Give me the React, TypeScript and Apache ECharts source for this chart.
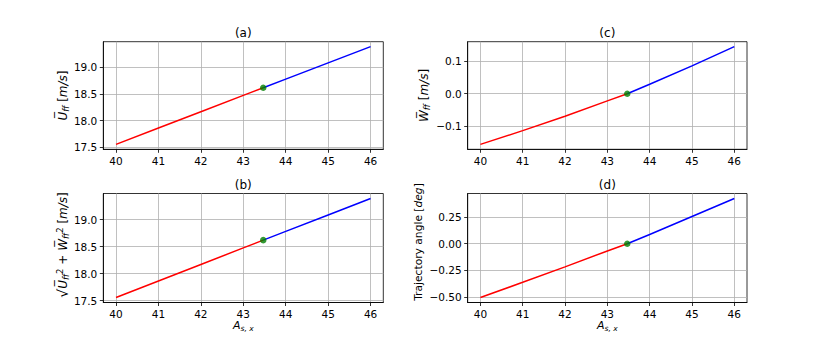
import React, { useEffect, useRef } from 'react';
import * as echarts from 'echarts';

// ---- data ----
const xRed = [40, 41, 42, 43, 43.47];
const xBlue = [43.47, 44, 45, 46];
const uRed = [17.555, 17.862, 18.168, 18.474, 18.618];
const uBlue = [18.618, 18.78, 19.085, 19.39];
const speedRed = [17.556, 17.862, 18.168, 18.474, 18.618];
const speedBlue = [18.618, 18.78, 19.085, 19.39];
const wRed = [-0.155, -0.113, -0.069, -0.022, 0.0];
const wBlue = [0.0, 0.029, 0.085, 0.144];
const angRed = [-0.506, -0.363, -0.218, -0.068, 0.0];
const angBlue = [0.0, 0.086, 0.256, 0.425];
const opX = [43.47];
const opU = [18.618];
const opSpeed = [18.618];
const opW = [0.0];
const opAng = [0.0];

const xTicks = [40, 41, 42, 43, 44, 45, 46];
const uTicks = [17.5, 18.0, 18.5, 19.0];
const wTicks = [-0.1, 0.0, 0.1];
const angTicks = [-0.5, -0.25, 0.0, 0.25];
const titles = ['(a)', '(b)', '(c)', '(d)'];

const FONT = 'DejaVu Sans';
const minus = (s: string) => s.replace('-', '\u2212');

const grids = [
  { left: 103.3, top: 41.7, width: 280, height: 107.6 },
  { left: 103.3, top: 193.5, width: 280, height: 109 },
  { left: 467.7, top: 41.7, width: 279.3, height: 107.6 },
  { left: 467.7, top: 193.5, width: 279.3, height: 109 },
];

const rich = {
  u: { fontFamily: FONT, fontSize: 12, fontStyle: 'italic', color: '#000', lineHeight: 15, verticalAlign: 'middle' },
  n: { fontFamily: FONT, fontSize: 12, color: '#000', lineHeight: 15, verticalAlign: 'middle' },
  i: { fontFamily: FONT, fontSize: 12, fontStyle: 'italic', color: '#000', lineHeight: 15, verticalAlign: 'middle' },
  t: { fontFamily: FONT, fontSize: 10.7, color: '#000', lineHeight: 15, verticalAlign: 'middle' },
  ti: { fontFamily: FONT, fontSize: 10.7, fontStyle: 'italic', color: '#000', lineHeight: 15, verticalAlign: 'middle' },
  sub: { fontFamily: FONT, fontSize: 8.5, fontStyle: 'italic', color: '#000', lineHeight: 9, verticalAlign: 'bottom' },
  sup: { fontFamily: FONT, fontSize: 8.5, color: '#000', lineHeight: 9, verticalAlign: 'top' },
  r: { fontFamily: FONT, fontSize: 14, color: '#000', lineHeight: 15, verticalAlign: 'middle' },
  xa: { fontFamily: FONT, fontSize: 11, fontStyle: 'italic', color: '#000', lineHeight: 14, verticalAlign: 'middle' },
  xs: { fontFamily: FONT, fontSize: 7.5, fontStyle: 'italic', color: '#000', lineHeight: 8, verticalAlign: 'bottom' },
};

function xAxis(gridIndex: number, withName: boolean) {
  return {
    type: 'value',
    gridIndex,
    min: 39.7,
    max: 46.3,
    name: withName ? '{xa|A}{xs|s, x}' : '',
    nameLocation: 'middle',
    nameGap: 15,
    nameTextStyle: { rich },
    axisLine: { show: true, onZero: false, lineStyle: { color: '#000', width: 0.8 } },
    axisTick: { show: true, inside: false, length: 3.5, customValues: xTicks, lineStyle: { color: '#000', width: 0.8 } },
    axisLabel: {
      customValues: xTicks,
      margin: 6,
      fontFamily: FONT,
      fontSize: 10.5,
      color: '#000',
      formatter: (v: number) => String(Math.round(v)),
    },
    splitLine: { show: true, lineStyle: { color: '#b0b0b0', width: 0.8 } },
  };
}

function yAxis(
  gridIndex: number, min: number, max: number, ticks: number[], digits: number,
  name: string, nameGap: number, pad: number[],
) {
  return {
    type: 'value',
    gridIndex,
    min,
    max,
    name,
    nameLocation: 'middle',
    nameRotate: 90,
    nameGap,
    nameTextStyle: { rich, padding: pad },
    axisLine: { show: true, onZero: false, lineStyle: { color: '#000', width: 0.8 } },
    axisTick: { show: true, inside: false, length: 3.5, customValues: ticks, lineStyle: { color: '#000', width: 0.8 } },
    axisLabel: {
      customValues: ticks,
      margin: 6,
      fontFamily: FONT,
      fontSize: 10.5,
      color: '#000',
      formatter: (v: number) => minus(v.toFixed(digits)),
    },
    splitLine: { show: true, lineStyle: { color: '#b0b0b0', width: 0.8 } },
  };
}

const zip = (xs: number[], ys: number[]) => xs.map((x, i) => [x, ys[i]]);

function panelSeries(idx: number, red: number[], blue: number[], op: number[]) {
  return [
    {
      type: 'line', xAxisIndex: idx, yAxisIndex: idx, data: zip(xRed, red), showSymbol: false,
      lineStyle: { color: '#ff0000', width: 1.5 }, z: 3,
    },
    {
      type: 'line', xAxisIndex: idx, yAxisIndex: idx, data: zip(xBlue, blue), showSymbol: false,
      lineStyle: { color: '#0000ff', width: 1.5 }, z: 3,
    },
    {
      type: 'scatter', xAxisIndex: idx, yAxisIndex: idx, data: zip(opX, op), symbolSize: 6.5,
      itemStyle: { color: '#008000' }, z: 5,
    },
  ];
}

export default function App() {
  const ref = useRef<HTMLDivElement>(null);
  useEffect(() => {
    document.body.style.margin = '0';
    const chart = echarts.init(ref.current!, null, { renderer: 'svg' });
    const option = {
      animation: false,
      backgroundColor: '#fff',
      grid: grids.map((g) => ({ ...g, show: true, borderColor: '#000', borderWidth: 0.8, backgroundColor: 'transparent' })),
      xAxis: [xAxis(0, false), xAxis(1, true), xAxis(2, false), xAxis(3, true)],
      yAxis: [
        yAxis(0, 17.463, 19.482, uTicks, 1, '{u|U\u0305}{sub|ff}{n| [}{i|m/s}{n|]}', 32, [0, 0, 0, 0]),
        yAxis(1, 17.463, 19.482, uTicks, 1, '{r|\u221a}{u|U\u0305}{sub|ff}{sup|2}{n| + }{u|W\u0305}{sub|ff}{sup|2}{n| [}{i|m/s}{n|]}', 30, [0, 0, 0, 6]),
        yAxis(2, -0.170, 0.159, wTicks, 1, '{u|W\u0305}{sub|ff}{n| [}{i|m/s}{n|]}', 36, [0, 0, 0, 0]),
        yAxis(3, -0.553, 0.472, angTicks, 2, '{t|Trajectory angle [}{ti|deg}{t|]}', 42, [0, 0, 0, 12]),
      ],
      graphic: grids.map((g, i) => ({
        type: 'text',
        x: g.left + g.width / 2,
        y: g.top - 9,
        style: { text: titles[i], font: `12px "${FONT}"`, fill: '#000', textAlign: 'center', textVerticalAlign: 'middle' },
      })),
      series: [
        ...panelSeries(0, uRed, uBlue, opU),
        ...panelSeries(1, speedRed, speedBlue, opSpeed),
        ...panelSeries(2, wRed, wBlue, opW),
        ...panelSeries(3, angRed, angBlue, opAng),
      ],
    };
    chart.setOption(option as any);
    return () => chart.dispose();
  }, []);
  return <div ref={ref} style={{ position: 'absolute', left: 0, top: 0, width: 830, height: 346 }} />;
}
